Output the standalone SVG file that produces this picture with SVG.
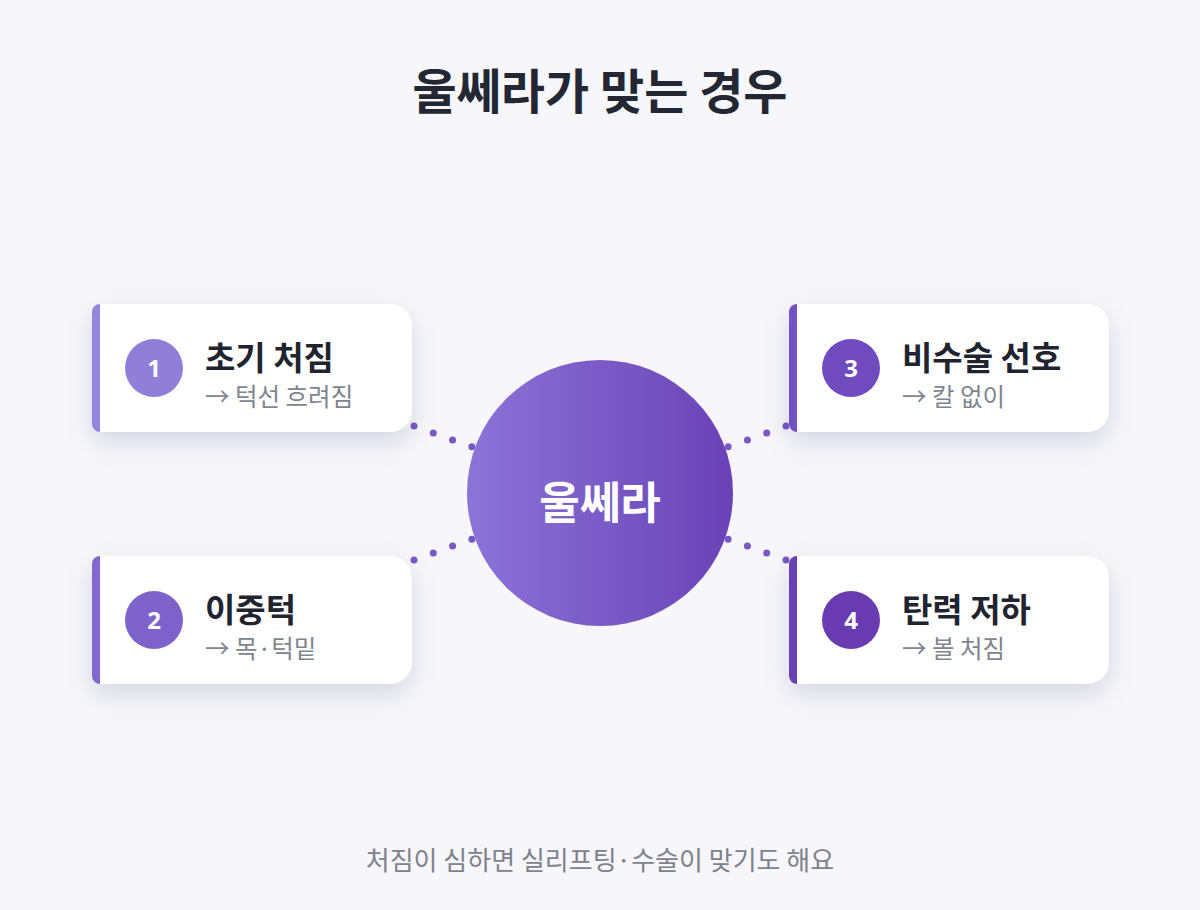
<svg xmlns="http://www.w3.org/2000/svg" xmlns:xlink="http://www.w3.org/1999/xlink" width="1200" height="910" viewBox="0 0 1200 910">
  <defs>
    <style>
      .title { font-family: "Noto Sans CJK KR", "Noto Sans", sans-serif; font-weight: 700; font-size: 48px; fill: #232733; text-anchor: middle; }
      .footer { font-family: "Noto Sans CJK KR", "Noto Sans", sans-serif; font-weight: 400; font-size: 26px; fill: #7d828c; text-anchor: middle; }
      .hub { font-family: "Noto Sans CJK KR", "Noto Sans", sans-serif; font-weight: 700; font-size: 44px; fill: #ffffff; text-anchor: middle; }
      .ctitle { font-family: "Noto Sans CJK KR", "Noto Sans", sans-serif; font-weight: 700; font-size: 33px; fill: #1f2430; }
      .csub { font-family: "Noto Sans CJK KR", "Noto Sans", sans-serif; font-weight: 400; font-size: 24.5px; fill: #80858f; }
      .num { font-family: "Noto Sans", "Open Sans", sans-serif; font-weight: 700; font-size: 24px; fill: #ffffff; text-anchor: middle; }
      .dots { fill: none; stroke: #7659c6; stroke-width: 7; stroke-linecap: round; stroke-dasharray: 0 20.5; }
      .card { fill: #ffffff; }
    </style>
    <linearGradient id="hubGrad" x1="0" y1="0" x2="1" y2="0">
      <stop offset="0" stop-color="#8b74d8"/>
      <stop offset="1" stop-color="#6a42b6"/>
    </linearGradient>
    <filter id="shadow" x="-20%" y="-30%" width="140%" height="170%">
      <feDropShadow dx="0" dy="10" stdDeviation="13" flood-color="#1e1e3c" flood-opacity="0.13"/>
    </filter>
    <path id="cardShape" d="M8,0 H298 A22,22 0 0 1 320,22 V106 A22,22 0 0 1 298,128 H8 A8,8 0 0 1 0,120 V8 A8,8 0 0 1 8,0 Z"/>
    <clipPath id="cardClip">
      <use xlink:href="#cardShape"/>
    </clipPath>
  </defs>

  <rect width="1200" height="910" fill="#f6f6fb"/>

  <text class="title" x="600" y="109">울쎄라가 맞는 경우</text>

  <g id="connectors">
    <path class="dots" d="M414,426 L600,493"/>
    <path class="dots" d="M414,560 L600,493"/>
    <path class="dots" d="M786,426 L600,493"/>
    <path class="dots" d="M786,560 L600,493"/>
  </g>

  <g id="hub">
    <circle cx="600" cy="493" r="133" fill="url(#hubGrad)"/>
    <text class="hub" x="600" y="519">울쎄라</text>
  </g>

  <g id="node1" transform="translate(92,304)">
    <use xlink:href="#cardShape" class="card" filter="url(#shadow)"/>
    <rect x="0" y="0" width="8" height="128" fill="#9484dc" clip-path="url(#cardClip)"/>
    <circle cx="62" cy="64" r="29" fill="#8f7fd9"/>
    <text class="num" x="62" y="73">1</text>
    <text class="ctitle" x="113" y="66">초기 처짐</text>
    <text class="csub" x="113" y="102">→ 턱선 흐려짐</text>
  </g>

  <g id="node2" transform="translate(92,556)">
    <use xlink:href="#cardShape" class="card" filter="url(#shadow)"/>
    <rect x="0" y="0" width="8" height="128" fill="#8068cf" clip-path="url(#cardClip)"/>
    <circle cx="62" cy="64" r="29" fill="#7d62cc"/>
    <text class="num" x="62" y="73">2</text>
    <text class="ctitle" x="113" y="66">이중턱</text>
    <text class="csub" x="113" y="102">→ 목·턱밑</text>
  </g>

  <g id="node3" transform="translate(789,304)">
    <use xlink:href="#cardShape" class="card" filter="url(#shadow)"/>
    <rect x="0" y="0" width="8" height="128" fill="#7352c4" clip-path="url(#cardClip)"/>
    <circle cx="62" cy="64" r="29" fill="#6f4bbf"/>
    <text class="num" x="62" y="73">3</text>
    <text class="ctitle" x="113" y="66">비수술 선호</text>
    <text class="csub" x="113" y="102">→ 칼 없이</text>
  </g>

  <g id="node4" transform="translate(789,556)">
    <use xlink:href="#cardShape" class="card" filter="url(#shadow)"/>
    <rect x="0" y="0" width="8" height="128" fill="#6a40b5" clip-path="url(#cardClip)"/>
    <circle cx="62" cy="64" r="29" fill="#683cb0"/>
    <text class="num" x="62" y="73">4</text>
    <text class="ctitle" x="113" y="66">탄력 저하</text>
    <text class="csub" x="113" y="102">→ 볼 처짐</text>
  </g>

  <text class="footer" x="600" y="870">처짐이 심하면 실리프팅·수술이 맞기도 해요</text>
</svg>
